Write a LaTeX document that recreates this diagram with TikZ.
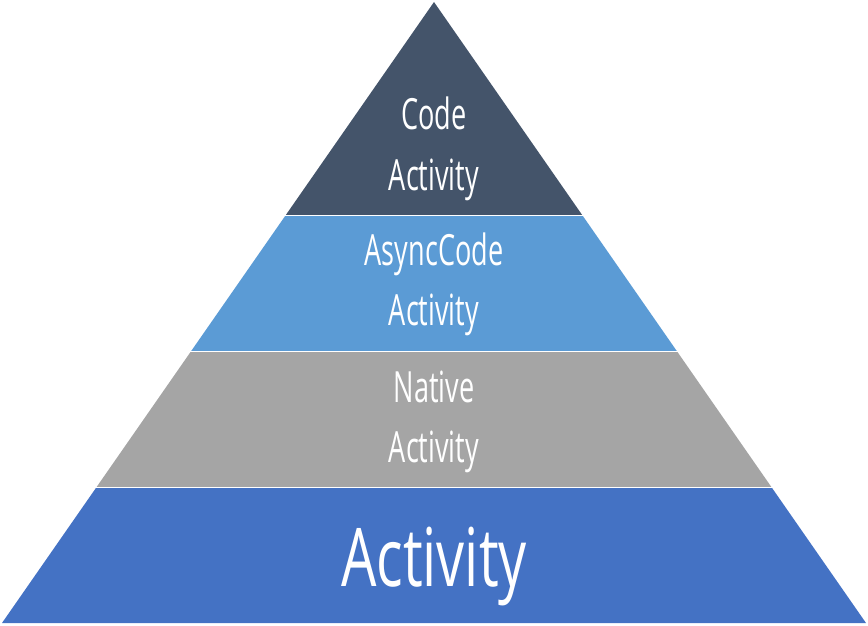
\documentclass[tikz,border=0pt]{standalone}
\usepackage{fontspec}
\setmainfont{Open Sans}
\usepackage{graphicx}
\definecolor{topc}{HTML}{44546A}
\definecolor{secc}{HTML}{5B9BD5}
\definecolor{thrc}{HTML}{A5A5A5}
\definecolor{basec}{HTML}{4472C4}
\tikzset{
  lbl/.style={text=white, anchor=base, inner sep=0pt, font=\fontsize{43}{43}\selectfont},
  biglbl/.style={text=white, anchor=base, inner sep=0pt, font=\fontsize{81}{81}\selectfont},
}
\newcommand{\nar}[1]{\scalebox{0.63}[1]{#1}}
\newcommand{\narbig}[1]{\scalebox{0.69}[1]{#1}}
\begin{document}
\begin{tikzpicture}[x=1pt,y=-1pt]
\useasboundingbox (0,0) rectangle (868,626);
\begin{scope}
  \clip (434,2) -- (866,623) -- (2,623) -- cycle;
  \fill[topc] (0,0) rectangle (868,214.5);
  \fill[secc] (0,216) rectangle (868,350.5);
  \fill[thrc] (0,352) rectangle (868,486.5);
  \fill[basec] (0,488) rectangle (868,626);
\end{scope}
\node[lbl] (code) at (434,129) {\nar{Code}};
\node[lbl] (act1) at (434,190) {\nar{Activity}};
\node[lbl] (async) at (434,265) {\nar{AsyncCode}};
\node[lbl] (act2) at (434,325) {\nar{Activity}};
\node[lbl] (native) at (434,402) {\nar{Native}};
\node[lbl] (act3) at (434,462) {\nar{Activity}};
\node[biglbl] (act4) at (434,586) {\narbig{Activity}};
\end{tikzpicture}
\end{document}
